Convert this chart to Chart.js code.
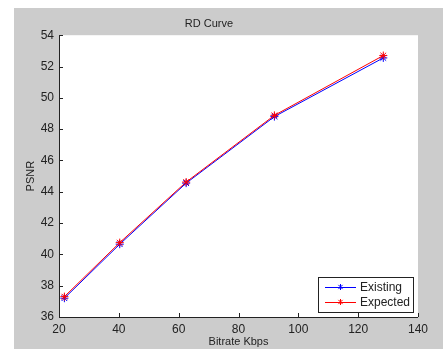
<!DOCTYPE html>
<html><head><meta charset="utf-8">
<script src="https://cdn.jsdelivr.net/npm/chart.js@4"></script>
<style>html,body{margin:0;padding:0;background:#fff;}#w{width:443px;height:349px;}</style>
</head><body><div id="w"><canvas id="c" width="443" height="349"></canvas></div>
<script>
const bitrate = [21.8, 40.3, 62.5, 92.0, 128.4];
const existing = [37.2, 40.65, 44.55, 48.8, 52.55];
const expected = [37.3, 40.75, 44.62, 48.88, 52.7];
const xTicks = [20, 40, 60, 80, 100, 120, 140];
const yTicks = [36, 38, 40, 42, 44, 46, 48, 50, 52, 54];
const seriesNames = ['Existing', 'Expected'];
const titleText = 'RD Curve';
const xTitle = 'Bitrate Kbps';
const yTitle = 'PSNR';

const FONT = 'Liberation Sans, Arial, sans-serif';
const TXT = '#222';

const bgPlugin = {
  id: 'bg',
  beforeDraw(chart) {
    const ctx = chart.ctx, a = chart.chartArea;
    ctx.save();
    ctx.fillStyle = '#cccccc';
    ctx.fillRect(14, 8, chart.width - 14, chart.height - 8);
    ctx.fillStyle = '#ffffff';
    ctx.fillRect(a.left, a.top, a.right - a.left, a.bottom - a.top);
    ctx.restore();
  },
  afterDatasetsDraw(chart) {
    const ctx = chart.ctx, a = chart.chartArea;
    const xs = chart.scales.x, ys = chart.scales.y;
    ctx.save();
    ctx.strokeStyle = '#222';
    ctx.lineWidth = 1;
    ctx.beginPath();
    ctx.moveTo(a.left + 0.5, a.top);
    ctx.lineTo(a.left + 0.5, a.bottom + 0.5);
    ctx.lineTo(a.right, a.bottom + 0.5);
    ctx.stroke();
    ctx.beginPath();
    xTicks.forEach(v => {
      const px = Math.round(xs.getPixelForValue(v)) + 0.5;
      ctx.moveTo(px, a.bottom); ctx.lineTo(px, a.bottom - 4);
    });
    yTicks.forEach(v => {
      const py = Math.round(ys.getPixelForValue(v)) + 0.5;
      ctx.moveTo(a.left, py); ctx.lineTo(a.left + 4, py);
    });
    ctx.stroke();
    // legend
    const lx = 318, ly = 277, lw = 95, lh = 35;
    ctx.fillStyle = '#fff';
    ctx.fillRect(lx, ly, lw, lh);
    ctx.strokeStyle = '#222';
    ctx.strokeRect(lx + 0.5, ly + 0.5, lw, lh);
    const cols = ['#0000ff', '#ff0000'];
    seriesNames.forEach((n, i) => {
      const yy = ly + 10 + i * 15;
      ctx.strokeStyle = cols[i];
      ctx.beginPath();
      ctx.moveTo(lx + 7, yy + 0.5); ctx.lineTo(lx + 38, yy + 0.5);
      ctx.stroke();
      const cx = lx + 22.5, r = 3;
      ctx.beginPath();
      ctx.moveTo(cx, yy - r); ctx.lineTo(cx, yy + r);
      ctx.moveTo(cx - r * 0.7, yy - r * 0.7); ctx.lineTo(cx + r * 0.7, yy + r * 0.7);
      ctx.moveTo(cx + r * 0.7, yy - r * 0.7); ctx.lineTo(cx - r * 0.7, yy + r * 0.7);
      ctx.stroke();
      ctx.fillStyle = TXT;
      ctx.font = '12px ' + FONT;
      ctx.textBaseline = 'middle';
      ctx.textAlign = 'left';
      ctx.fillText(n, lx + 42, yy + 0.5);
    });
    ctx.restore();
  }
};

new Chart(document.getElementById('c'), {
  type: 'line',
  data: {
    datasets: [
      { label: seriesNames[0], data: bitrate.map((x, i) => ({x, y: existing[i]})),
        borderColor: '#0000ff', backgroundColor: '#0000ff', borderWidth: 1,
        pointStyle: 'star', pointRadius: 4, pointBorderWidth: 1, pointBorderColor: '#0000ff', order: 1, tension: 0 },
      { label: seriesNames[1], data: bitrate.map((x, i) => ({x, y: expected[i]})),
        borderColor: '#ff0000', backgroundColor: '#ff0000', borderWidth: 1,
        pointStyle: 'star', pointRadius: 4, pointBorderWidth: 1, pointBorderColor: '#ff0000', order: 0, tension: 0 }
    ]
  },
  options: {
    responsive: false, animation: false, devicePixelRatio: 1,
    layout: { padding: { left: 0, top: 8, right: 25, bottom: 0 } },
    plugins: {
      legend: { display: false }, tooltip: { enabled: false },
      title: { display: true, text: titleText, color: TXT, font: { family: FONT, size: 11, weight: 'normal' }, padding: { top: 9, bottom: 5 } }
    },
    scales: {
      x: {
        type: 'linear', min: 20, max: 140,
        afterBuildTicks: s => { s.ticks = xTicks.map(v => ({value: v})); },
        afterFit: s => { s.height = 32; },
        grid: { display: false, drawTicks: false },
        border: { display: false },
        ticks: { color: TXT, font: { family: FONT, size: 12 }, padding: 5, maxRotation: 0 },
        title: { display: true, text: xTitle, color: TXT, font: { family: FONT, size: 11 }, padding: { top: 0, bottom: 0 } }
      },
      y: {
        type: 'linear', min: 36, max: 54,
        afterBuildTicks: s => { s.ticks = yTicks.map(v => ({value: v})); },
        afterFit: s => { s.width = 59; },
        grid: { display: false, drawTicks: false },
        border: { display: false },
        ticks: { color: TXT, font: { family: FONT, size: 12 }, padding: 5 },
        title: { display: true, text: yTitle, color: TXT, font: { family: FONT, size: 11 }, padding: { top: 24, bottom: 0 } }
      }
    }
  },
  plugins: [bgPlugin]
});
</script></body></html>
